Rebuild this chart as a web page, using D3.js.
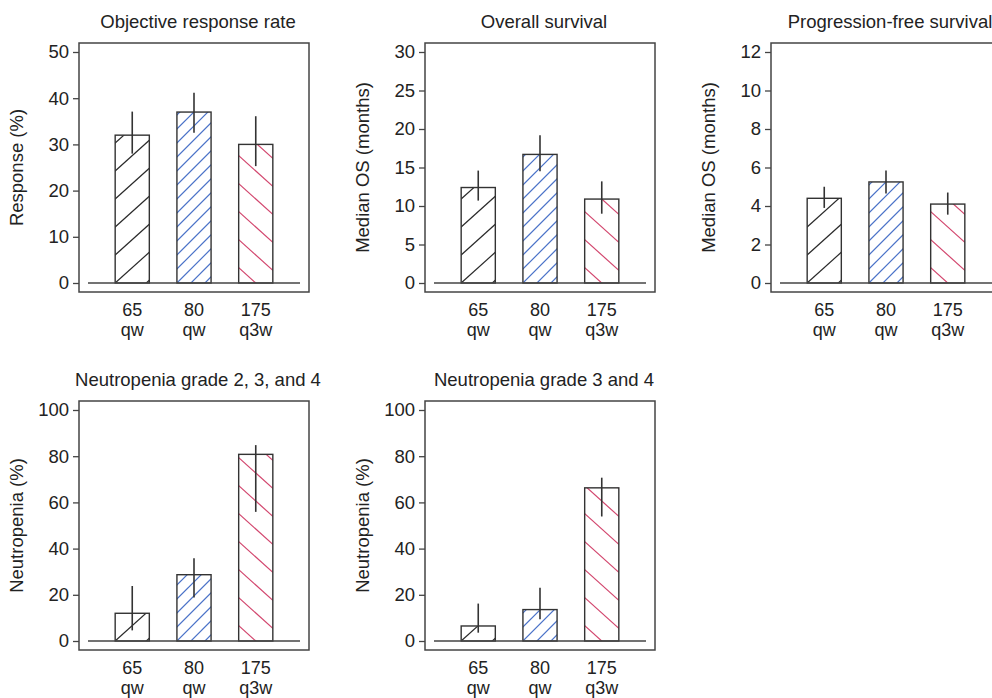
<!DOCTYPE html>
<html>
<head>
<meta charset="utf-8">
<script src="https://cdn.jsdelivr.net/npm/d3@7"></script>
<style>
  body { margin: 0; background: #fff; }
  svg { display: block; font-family: "Liberation Sans", Arial, sans-serif; }
  .axis text { font-size: 18.5px; fill: #222; }
  .axis line { stroke: #444; stroke-width: 1.3; }
</style>
</head>
<body>
<div id="chart"></div>
<script>

// dose groups (x categories)
var doses = ["65", "80", "175"];
var schedules = ["qw", "qw", "q3w"];

// objective response rate (%)
var orrValue = [32, 37, 30];
var orrLow = [28, 32.5, 25.3];
var orrHigh = [37.1, 41.2, 36.1];

// overall survival (months)
var osValue = [12.4, 16.7, 10.9];
var osLow = [10.7, 14.5, 9.0];
var osHigh = [14.6, 19.2, 13.2];

// progression-free survival (months)
var pfsValue = [4.4, 5.25, 4.1];
var pfsLow = [3.9, 4.65, 3.55];
var pfsHigh = [5.0, 5.85, 4.7];

// neutropenia grade 2-4 (%)
var n234Value = [12, 28.7, 80.8];
var n234Low = [4.6, 18.8, 55.9];
var n234High = [23.8, 35.8, 84.8];

// neutropenia grade 3-4 (%)
var n34Value = [6.5, 13.6, 66.3];
var n34Low = [3.6, 9.4, 53.9];
var n34High = [16.2, 23.1, 70.7];

// y tick values per panel
var orrTicks = [0, 10, 20, 30, 40, 50];
var osTicks = [0, 5, 10, 15, 20, 25, 30];
var pfsTicks = [0, 2, 4, 6, 8, 10, 12];
var neutTicks = [0, 20, 40, 60, 80, 100];

var panels = [
  { title: "Objective response rate", ylab: "Response (%)", v: orrValue, lo: orrLow, hi: orrHigh, ticks: orrTicks, col: 0, row: 0 },
  { title: "Overall survival", ylab: "Median OS (months)", v: osValue, lo: osLow, hi: osHigh, ticks: osTicks, col: 1, row: 0 },
  { title: "Progression-free survival", ylab: "Median OS (months)", v: pfsValue, lo: pfsLow, hi: pfsHigh, ticks: pfsTicks, col: 2, row: 0 },
  { title: "Neutropenia grade 2, 3, and 4", ylab: "Neutropenia (%)", v: n234Value, lo: n234Low, hi: n234High, ticks: neutTicks, col: 0, row: 1 },
  { title: "Neutropenia grade 3 and 4", ylab: "Neutropenia (%)", v: n34Value, lo: n34Low, hi: n34High, ticks: neutTicks, col: 1, row: 1 }
];

// hatching per dose group: colour, angle, vertical spacing, direction
var hatch = [
  { color: "#2a2a2a", angle: 42, gap: 28, dir: 1, phase: 0 },
  { color: "#4a72c8", angle: 45, gap: 14, dir: 1, phase: 0 },
  { color: "#d2466e", angle: 42, gap: 28, dir: -1, phase: 0.5 }
];

var frameLeft = [79, 425, 771];
var frameTop = [43, 401];
var frameW = 230, frameH = 249, inset = 9;

var svg = d3.select("#chart").append("svg")
  .attr("width", 992)
  .attr("height", 698);

var defs = svg.append("defs");
var clipId = 0;

panels.forEach(function (p) {
  var fx = frameLeft[p.col], fy = frameTop[p.row];
  var g = svg.append("g");

  var x = d3.scaleBand()
    .domain(doses)
    .range([fx + inset, fx + frameW - inset])
    .paddingInner(0.447)
    .paddingOuter(0.44);

  var y = d3.scaleLinear()
    .domain([0, d3.max(p.ticks)])
    .range([fy + frameH - inset, fy + inset]);

  // title
  g.append("text")
    .attr("x", fx + frameW / 2 + 4)
    .attr("y", fy - 15)
    .attr("text-anchor", "middle")
    .style("font-size", "18.5px")
    .style("fill", "#222")
    .text(p.title);

  // y axis title
  g.append("text")
    .attr("transform", "translate(" + (fx - 56) + "," + (fy + frameH / 2) + ") rotate(-90)")
    .attr("text-anchor", "middle")
    .style("font-size", "18.5px")
    .style("fill", "#222")
    .text(p.ylab);

  var yAxis = d3.axisLeft(y)
    .tickValues(p.ticks)
    .tickSize(6)
    .tickSizeOuter(0)
    .tickPadding(4);

  var ax = g.append("g")
    .attr("class", "axis")
    .attr("transform", "translate(" + fx + ",0)")
    .call(yAxis);
  ax.select(".domain").remove();

  // bars with hatching
  doses.forEach(function (d, i) {
    var x0 = x(d), x1 = x(d) + x.bandwidth();
    var y0 = y(p.v[i]), y1 = y(0);
    var h = hatch[i];
    var id = "clip" + (clipId++);
    defs.append("clipPath").attr("id", id)
      .append("rect")
      .attr("x", x0).attr("y", y0)
      .attr("width", x1 - x0).attr("height", y1 - y0);

    var t = Math.tan(h.angle * Math.PI / 180);
    var w = x1 - x0;
    var anchorX = x0 + h.phase * w;
    var lines = [];
    var nMax = Math.ceil((y1 - y0 + t * w) / h.gap) + 2;
    for (var k = -nMax; k <= nMax; k++) {
      var cy = y1 - k * h.gap;
      lines.push({
        xa: x0 - 2, ya: cy + h.dir * t * (anchorX - (x0 - 2)),
        xb: x1 + 2, yb: cy - h.dir * t * ((x1 + 2) - anchorX)
      });
    }
    g.append("g").attr("clip-path", "url(#" + id + ")")
      .selectAll("line").data(lines).enter()
      .append("line")
      .attr("x1", function (l) { return l.xa; })
      .attr("y1", function (l) { return l.ya; })
      .attr("x2", function (l) { return l.xb; })
      .attr("y2", function (l) { return l.yb; })
      .attr("stroke", h.color)
      .attr("stroke-width", 1.2);

    g.append("rect")
      .attr("x", x0).attr("y", y0)
      .attr("width", w).attr("height", y1 - y0)
      .attr("fill", "none")
      .attr("stroke", "#333")
      .attr("stroke-width", 1.4);
  });

  // baseline
  g.append("line")
    .attr("x1", fx + inset).attr("x2", fx + frameW - inset)
    .attr("y1", y(0)).attr("y2", y(0))
    .attr("stroke", "#444").attr("stroke-width", 1.4);

  // error bars
  g.selectAll(".err").data(doses).enter()
    .append("line")
    .attr("class", "err")
    .attr("x1", function (d) { return x(d) + x.bandwidth() / 2; })
    .attr("x2", function (d) { return x(d) + x.bandwidth() / 2; })
    .attr("y1", function (d, i) { return y(p.lo[i]); })
    .attr("y2", function (d, i) { return y(p.hi[i]); })
    .attr("stroke", "#333")
    .attr("stroke-width", 1.6);

  // x labels, two lines
  var cx = function (d) { return x(d) + x.bandwidth() / 2; };
  g.selectAll(".xl1").data(doses).enter()
    .append("text")
    .attr("class", "xl1")
    .attr("x", cx)
    .attr("y", fy + frameH + 24)
    .attr("text-anchor", "middle")
    .style("font-size", "18px")
    .style("fill", "#222")
    .text(function (d) { return d; });
  g.selectAll(".xl2").data(doses).enter()
    .append("text")
    .attr("class", "xl2")
    .attr("x", cx)
    .attr("y", fy + frameH + 44)
    .attr("text-anchor", "middle")
    .style("font-size", "18px")
    .style("fill", "#222")
    .text(function (d, i) { return schedules[i]; });

  // frame
  g.append("rect")
    .attr("x", fx).attr("y", fy)
    .attr("width", frameW).attr("height", frameH)
    .attr("fill", "none")
    .attr("stroke", "#444")
    .attr("stroke-width", 1.5);
});

</script>
</body>
</html>
